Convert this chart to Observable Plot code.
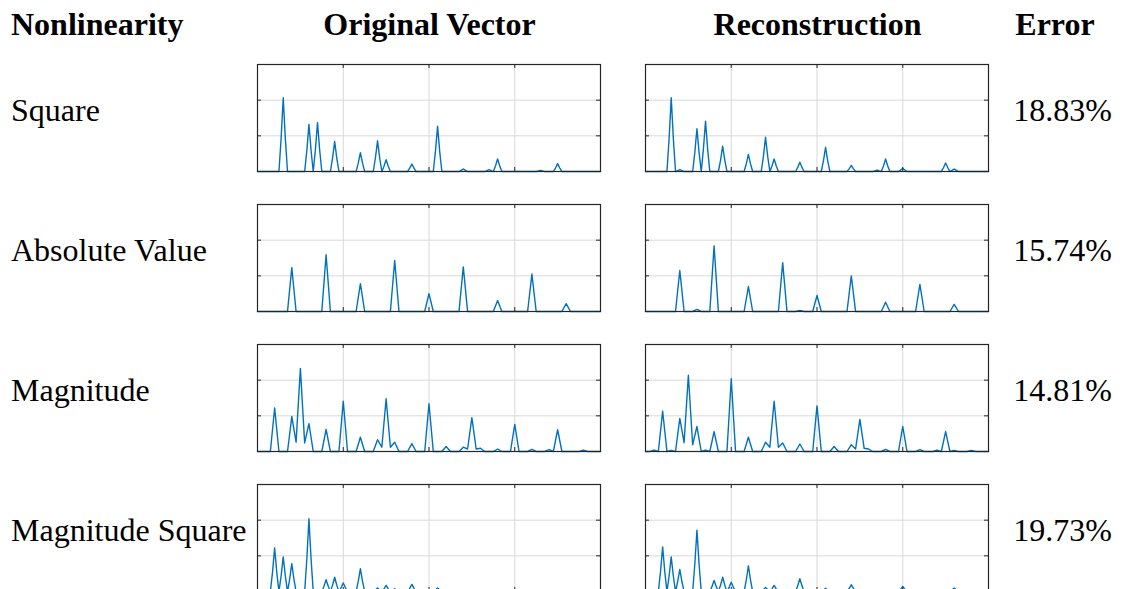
<!DOCTYPE html>
<html>
<head>
<meta charset="utf-8">
<script src="https://cdn.jsdelivr.net/npm/d3@7"></script>
<script src="https://cdn.jsdelivr.net/npm/@observablehq/plot@0.6"></script>
<style>
  html, body { margin: 0; padding: 0; background: #fff; }
  #page { position: relative; width: 1125px; height: 589px; overflow: hidden; background: #fff; }
  #page > svg, #page > figure { position: absolute; margin: 0; }
  .panel { position: absolute; }
</style>
</head>
<body>
<div id="page"></div>
<script>
// Table headers, row labels and reconstruction errors
const headers = ["Nonlinearity", "Original Vector", "Reconstruction", "Error"];
const nonlinearities = ["Square", "Absolute Value", "Magnitude", "Magnitude Square"];
const errors = ["18.83%", "15.74%", "14.81%", "19.73%"];

// Axis ticks shared by every panel
const xTicks = [0, 20, 40, 60, 80];
const xGrid = [20, 40, 60];
const yTicks = [0, 1, 2, 3];
const yGrid = [1, 2];

// Square: non-zero entries (index, value)
const sqOrigIdx = [6, 12, 14, 18, 24, 28, 30, 36, 42, 48, 54, 56, 66, 70];
const sqOrigVal = [2.07, 1.32, 1.37, 0.84, 0.53, 0.86, 0.33, 0.21, 1.27, 0.07, 0.05, 0.35, 0.03, 0.22];
const sqRecIdx = [6, 8, 12, 14, 18, 24, 28, 30, 36, 42, 48, 54, 56, 60, 70, 72];
const sqRecVal = [2.07, 0.05, 1.20, 1.41, 0.71, 0.48, 0.96, 0.35, 0.26, 0.68, 0.17, 0.04, 0.35, 0.09, 0.24, 0.07];

// Absolute value
const absOrigIdx = [8, 16, 24, 32, 40, 48, 56, 64, 72];
const absOrigVal = [1.23, 1.59, 0.78, 1.43, 0.50, 1.25, 0.31, 1.05, 0.22];
const absRecIdx = [8, 12, 16, 24, 32, 36, 40, 48, 56, 64, 72];
const absRecVal = [1.15, 0.06, 1.84, 0.70, 1.37, 0.03, 0.45, 1.00, 0.26, 0.76, 0.20];

// Magnitude
const magOrigIdx = [4, 8, 9, 10, 11, 12, 16, 20, 24, 28, 29, 30, 31, 32, 36, 40, 44, 48, 49, 50, 51, 52, 56, 60, 64, 68, 70, 76];
const magOrigVal = [1.22, 0.98, 0.26, 2.33, 0.24, 0.78, 0.62, 1.41, 0.40, 0.33, 0.12, 1.48, 0.12, 0.26, 0.22, 1.34, 0.14, 0.12, 0.07, 0.95, 0.07, 0.09, 0.07, 0.76, 0.06, 0.05, 0.61, 0.04];
const magRecIdx = [2, 4, 6, 8, 9, 10, 11, 12, 14, 16, 20, 24, 28, 29, 30, 31, 32, 36, 40, 44, 48, 49, 50, 51, 52, 56, 60, 64, 68, 70, 72, 76];
const magRecVal = [0.04, 1.13, 0.03, 0.93, 0.25, 2.14, 0.19, 0.70, 0.04, 0.56, 2.04, 0.40, 0.26, 0.12, 1.41, 0.12, 0.24, 0.21, 1.28, 0.14, 0.19, 0.07, 0.90, 0.09, 0.07, 0.06, 0.70, 0.05, 0.04, 0.56, 0.03, 0.03];

// Magnitude square
const msqOrigIdx = [4, 6, 8, 12, 16, 18, 20, 24, 28, 30, 32, 36, 42];
const msqOrigVal = [1.22, 0.97, 0.78, 2.04, 0.33, 0.40, 0.24, 0.64, 0.10, 0.17, 0.075, 0.20, 0.10];
const msqRecIdx = [4, 6, 8, 12, 16, 18, 20, 24, 28, 30, 36, 42, 48, 60, 72];
const msqRecVal = [1.25, 0.97, 0.62, 1.72, 0.31, 0.40, 0.26, 0.72, 0.11, 0.17, 0.36, 0.09, 0.19, 0.14, 0.10];

// Line profile around each entry for the squared nonlinearities (finer sampling)
const peakOffsets = [-1, -0.75, -0.5, -0.25, 0, 0.25, 0.5, 0.75, 1];
const peakWeights = [0, 0.22, 0.44, 0.72, 1, 0.72, 0.44, 0.22, 0];

const N = 80;

// Coarse vector: one sample per index, zero where not listed
function coarse(idx, val) {
  const m = new Map(idx.map((n, i) => [n, val[i]]));
  return d3.range(0, N + 1).map(n => ({x: n, y: m.get(n) ?? 0}));
}

// Finely sampled vector built from the listed entries and the peak profile
function fine(idx, val) {
  const step = peakOffsets[1] - peakOffsets[0];
  const k = Math.round(1 / step);
  const pts = [];
  for (let j = 0; j <= N * k; j++) {
    const x = j / k;
    let y = 0;
    idx.forEach((c, i) => {
      const o = Math.round((x - c) * k);
      const w = peakOffsets.indexOf(o / k);
      if (w >= 0) y += val[i] * peakWeights[w];
    });
    pts.push({x, y});
  }
  return pts;
}

const rows = [
  [fine(sqOrigIdx, sqOrigVal), fine(sqRecIdx, sqRecVal)],
  [coarse(absOrigIdx, absOrigVal), coarse(absRecIdx, absRecVal)],
  [coarse(magOrigIdx, magOrigVal), coarse(magRecIdx, magRecVal)],
  [fine(msqOrigIdx, msqOrigVal), fine(msqRecIdx, msqRecVal)]
];

const page = document.getElementById("page");

// Layout of the table
const panelW = 343, panelH = 107;
const colLeft = [257, 645];
const rowTop = [64, 204, 344, 484];
const axisColor = "#262626";
const gridColor = "#d8d8d8";
const lineColor = "#0072BD";
const tick = 4;

function panel(data) {
  return Plot.plot({
    width: panelW + 2,
    height: panelH + 2,
    marginTop: 1, marginBottom: 1, marginLeft: 1, marginRight: 1,
    style: {background: "transparent", overflow: "visible"},
    x: {domain: [0, N], axis: null},
    y: {domain: [0, 3], axis: null},
    marks: [
      Plot.ruleX(xGrid, {x: d => d, stroke: gridColor, strokeWidth: 1}),
      Plot.ruleY(yGrid, {y: d => d, stroke: gridColor, strokeWidth: 1}),
      Plot.line(data, {x: "x", y: "y", stroke: lineColor, strokeWidth: 1.4}),
      Plot.tickX(xTicks, {x: d => d, stroke: axisColor, insetTop: panelH - tick}),
      Plot.tickX(xTicks, {x: d => d, stroke: axisColor, insetBottom: panelH - tick}),
      Plot.tickY(yTicks, {y: d => d, stroke: axisColor, insetRight: panelW - tick}),
      Plot.tickY(yTicks, {y: d => d, stroke: axisColor, insetLeft: panelW - tick}),
      Plot.frame({stroke: axisColor, strokeWidth: 1.2})
    ]
  });
}

rows.forEach((pair, r) => {
  pair.forEach((data, c) => {
    const el = panel(data);
    el.classList.add("panel");
    el.style.left = (colLeft[c] - 1) + "px";
    el.style.top = (rowTop[r] - 1) + "px";
    page.appendChild(el);
  });
});

// Text layer
const svg = d3.select(page).append("svg")
  .attr("width", 1125).attr("height", 589)
  .style("left", "0px").style("top", "0px")
  .style("pointer-events", "none")
  .style("font-family", "'Liberation Serif', 'Times New Roman', serif")
  .style("font-size", "32px")
  .style("fill", "#000");

const headerX = [11, colLeft[0] + panelW / 2 + 1, colLeft[1] + panelW / 2 + 1, 1055];
const headerAnchor = ["start", "middle", "middle", "middle"];
svg.selectAll("text.header").data(headers).join("text")
  .attr("class", "header")
  .attr("x", (d, i) => headerX[i])
  .attr("y", 34.5)
  .attr("text-anchor", (d, i) => headerAnchor[i])
  .style("font-weight", "bold")
  .text(d => d);

svg.selectAll("text.label").data(nonlinearities).join("text")
  .attr("class", "label")
  .attr("x", 11)
  .attr("y", (d, i) => rowTop[i] + 57)
  .text(d => d);

svg.selectAll("text.err").data(errors).join("text")
  .attr("class", "err")
  .attr("x", 1112)
  .attr("y", (d, i) => rowTop[i] + 57)
  .attr("text-anchor", "end")
  .text(d => d);
</script>
</body>
</html>
